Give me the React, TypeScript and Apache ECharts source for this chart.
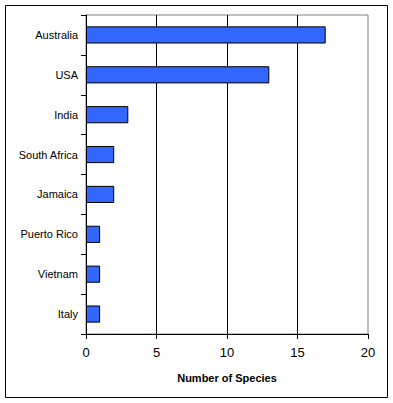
import React, { useEffect, useRef } from "react";
import * as echarts from "echarts";

const countries = ["Australia", "USA", "India", "South Africa", "Jamaica", "Puerto Rico", "Vietnam", "Italy"];
const species = [17, 13, 3, 2, 2, 1, 1, 1];
const xTicks = [0, 5, 10, 15, 20];

export default function App() {
  const ref = useRef<HTMLDivElement>(null);
  useEffect(() => {
    const chart = echarts.init(ref.current!, null, { renderer: "svg" });
    chart.setOption({
      animation: false,
      backgroundColor: "#fff",
      textStyle: { fontFamily: "Liberation Sans, Arial, sans-serif" },
      graphic: [
        {
          type: "rect",
          shape: { x: 5.5, y: 5.5, width: 382, height: 392 },
          style: { fill: "none", stroke: "#000", lineWidth: 1 },
          z: 0,
        },
      ],
      grid: {
        left: 86,
        top: 15,
        right: 25,
        bottom: 69,
        show: true,
        borderColor: "#808080",
        borderWidth: 1,
        backgroundColor: "transparent",
      },
      xAxis: {
        type: "value",
        min: xTicks[0],
        max: xTicks[xTicks.length - 1],
        interval: 5,
        name: "Number of Species",
        nameLocation: "middle",
        nameGap: 38,
        nameTextStyle: { fontWeight: "bold", fontSize: 11, color: "#000" },
        axisLine: { show: true, lineStyle: { color: "#000", width: 1 } },
        axisTick: { show: true, length: 5, lineStyle: { color: "#000" } },
        axisLabel: { fontSize: 13, color: "#000", margin: 12 },
        splitLine: { show: true, showMinLine: false, showMaxLine: false, lineStyle: { color: "#000", width: 1 } },
      },
      yAxis: {
        type: "category",
        data: countries,
        inverse: true,
        axisLine: { show: true, lineStyle: { color: "#000", width: 1 } },
        axisTick: { show: true, length: 5, lineStyle: { color: "#000" } },
        axisLabel: { fontSize: 11, color: "#000", margin: 8 },
        splitLine: { show: false },
      },
      series: [
        {
          type: "bar",
          data: species,
          barWidth: "43%",
          itemStyle: { color: "#3366FF", borderColor: "#000", borderWidth: 1 },
        },
      ],
    });
    return () => chart.dispose();
  }, []);
  return <div ref={ref} style={{ position: "fixed", left: 0, top: 0, width: 393, height: 403 }} />;
}
